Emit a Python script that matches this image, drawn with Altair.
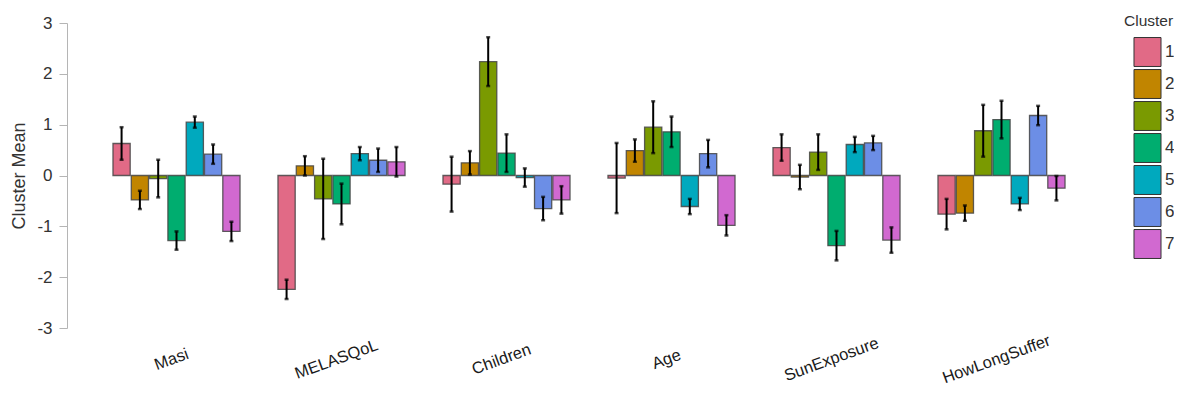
import altair as alt
import pandas as pd

variables = ["Masi", "MELASQoL", "Children", "Age", "SunExposure", "HowLongSuffer"]
clusters = ["1", "2", "3", "4", "5", "6", "7"]
colors = ["#E16A86", "#C18500", "#7A9A01", "#00AD6F", "#00A9BE", "#6C8EE6", "#D169D0"]

masi_mean = [0.63, -0.48, -0.06, -1.28, 1.05, 0.42, -1.10]
masi_err = [0.32, 0.18, 0.37, 0.18, 0.11, 0.19, 0.19]
melas_mean = [-2.24, 0.19, -0.46, -0.56, 0.43, 0.30, 0.27]
melas_err = [0.19, 0.19, 0.79, 0.40, 0.13, 0.23, 0.29]
children_mean = [-0.17, 0.25, 2.24, 0.44, -0.04, -0.65, -0.48]
children_err = [0.54, 0.23, 0.48, 0.37, 0.18, 0.23, 0.27]
age_mean = [-0.05, 0.49, 0.95, 0.86, -0.61, 0.43, -0.98]
age_err = [0.69, 0.22, 0.51, 0.30, 0.15, 0.27, 0.20]
sun_mean = [0.55, -0.03, 0.46, -1.38, 0.61, 0.64, -1.27]
sun_err = [0.26, 0.24, 0.35, 0.29, 0.15, 0.14, 0.25]
howlong_mean = [-0.76, -0.74, 0.88, 1.10, -0.56, 1.18, -0.25]
howlong_err = [0.30, 0.15, 0.51, 0.37, 0.12, 0.19, 0.24]

means = [masi_mean, melas_mean, children_mean, age_mean, sun_mean, howlong_mean]
errs = [masi_err, melas_err, children_err, age_err, sun_err, howlong_err]

rows = []
for v, m, e in zip(variables, means, errs):
    for c, mv, ev in zip(clusters, m, e):
        rows.append({"Variable": v, "Cluster": c, "Mean": mv, "Lo": mv - ev, "Hi": mv + ev})
df = pd.DataFrame(rows)

FONT = "Liberation Sans"

x_enc = alt.X("Variable:N", sort=variables,
              scale=alt.Scale(paddingInner=0.23, paddingOuter=0.115),
              axis=alt.Axis(title=None, domain=False, ticks=False, tickSize=0,
                            labelAngle=340, labelAlign="center", labelBaseline="middle",
                            labelPadding=31, labelOffset=-5, labelFontSize=16.5,
                            labelColor="#1a1a1a", labelFont=FONT))
xo_enc = alt.XOffset("Cluster:N", sort=clusters, scale=alt.Scale(paddingInner=0.06))
y_scale = alt.Scale(domain=[-3, 3], nice=False, zero=False)

bars = alt.Chart(df).mark_bar(stroke="#444", strokeWidth=1.3, strokeOpacity=0.85).encode(
    x=x_enc,
    xOffset=xo_enc,
    y=alt.Y("Mean:Q", scale=y_scale,
            axis=alt.Axis(title="Cluster Mean", values=[-3, -2, -1, 0, 1, 2, 3],
                          labelExpr="datum.value",
                          grid=False, offset=27, domainColor="#b5b5b5", tickColor="#b5b5b5",
                          tickSize=8, labelFontSize=17, labelColor="#333", labelFont=FONT,
                          labelPadding=7, titleFontSize=18, titleFontWeight="normal",
                          titleColor="#333", titleFont=FONT, titlePadding=8)),
    y2=alt.datum(0),
    color=alt.Color("Cluster:N", sort=clusters,
                    scale=alt.Scale(domain=clusters, range=colors),
                    legend=alt.Legend(title="Cluster", orient="none", legendX=1030, legendY=-9,
                                      titleFontSize=15.5, titleFontWeight="normal", titleColor="#333",
                                      titleFont=FONT, labelFont=FONT, labelFontSize=17,
                                      labelColor="#333", labelOffset=3, symbolOffset=9,
                                      symbolType="M-0.98,-1.05H0.98V1.05H-0.98Z", symbolSize=760,
                                      symbolStrokeColor="#333", symbolStrokeWidth=1,
                                      symbolOpacity=1, rowPadding=-1, titlePadding=8)),
)

rules = alt.Chart(df).mark_rule(color="black", strokeWidth=2).encode(
    x=alt.X("Variable:N", sort=variables), xOffset=xo_enc,
    y=alt.Y("Lo:Q", scale=y_scale), y2="Hi:Q",
)
cap_lo = alt.Chart(df).mark_tick(color="black", size=4, thickness=2.5, orient="horizontal").encode(
    x=alt.X("Variable:N", sort=variables), xOffset=xo_enc,
    y=alt.Y("Lo:Q", scale=y_scale),
)
cap_hi = alt.Chart(df).mark_tick(color="black", size=4, thickness=2.5, orient="horizontal").encode(
    x=alt.X("Variable:N", sort=variables), xOffset=xo_enc,
    y=alt.Y("Hi:Q", scale=y_scale),
)

chart = alt.layer(bars, rules, cap_lo, cap_hi).properties(
    width=990, height=305,
    autosize=alt.AutoSizeParams(type="none"),
    padding={"left": 86, "top": 15, "right": 90, "bottom": 58},
).configure(font=FONT).configure_view(strokeWidth=0, stroke="transparent")

chart.save("out.html", embed_options={"renderer": "svg", "actions": False})
